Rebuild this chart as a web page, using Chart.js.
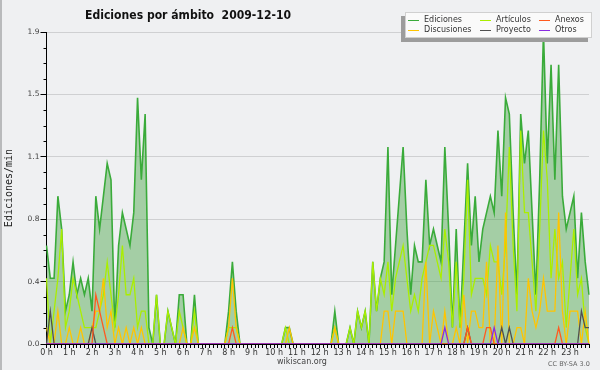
<!DOCTYPE html>
<html>
<head>
<meta charset="utf-8">
<script src="https://cdn.jsdelivr.net/npm/chart.js@4.4.1/dist/chart.umd.min.js"></script>
<style>
  html, body { margin: 0; padding: 0; background: #eff0f2; }
  #wrap { position: relative; width: 600px; height: 370px; overflow: hidden; background: #eff0f2; }
  #c { position: absolute; left: 0; top: 0; }
  #frame { position: absolute; left: 0; top: 0; width: 600px; height: 370px; box-sizing: border-box; border-left: 2px solid #b9babc; pointer-events: none; }
  .txt { position: absolute; white-space: pre; line-height: 1; }
  #title { left: 85px; top: 8px; font: bold 12px "DejaVu Sans", sans-serif; color: #111; transform-origin: 0 0; transform: scaleX(0.905); }
  #legend { position: absolute; left: 405px; top: 12px; width: 187px; height: 26px; background: #fafafa; border: 1px solid #d0d0d0; box-shadow: -4px 4px 0 #9c9c9c; box-sizing: border-box; }
  .li { position: absolute; font: 8px "DejaVu Sans", sans-serif; color: #333; line-height: 1; white-space: pre; }
  .ll { position: absolute; height: 1px; width: 11px; }
  #site { left: 0; width: 604px; text-align: center; top: 357px; font: 8px "DejaVu Sans", sans-serif; color: #444; }
  #cc { left: 548px; top: 360px; font: 6.5px "DejaVu Sans", sans-serif; color: #666; }
</style>
</head>
<body>
<div id="wrap">
  <canvas id="c" width="600" height="370"></canvas>
  <div id="title" class="txt">Ediciones por ámbito  2009-12-10</div>
  <div id="legend"></div>
  <div id="site" class="txt">wikiscan.org</div>
  <div id="cc" class="txt">CC BY-SA 3.0</div>
  <div id="frame"></div>
</div>
<script>
// ---- Data (edits per minute, 10-minute slots, 2009-12-10) ----
const hourLabels = ['0 h','1 h','2 h','3 h','4 h','5 h','6 h','7 h','8 h','9 h','10 h','11 h',
                    '12 h','13 h','14 h','15 h','16 h','17 h','18 h','19 h','20 h','21 h','22 h','23 h'];

const ediciones = [
 0.6,0.4,0.4,0.9,0.7,0.2, 0.3,0.5,0.3,0.4,0.3,0.4,
 0.2,0.9,0.7,0.9,1.1,1.0, 0.1,0.6,0.8,0.7,0.6,0.8,
 1.5,1.0,1.4,0.1,0,0.3, 0,0,0.2,0.1,0,0.3,
 0.3,0,0,0.3,0,0, 0,0,0,0,0,0,
 0.2,0.5,0.2,0,0,0, 0,0,0,0,0,0,
 0,0,0,0.1,0.1,0, 0,0,0,0,0,0,
 0,0,0,0,0.2,0, 0,0,0.1,0,0.2,0.1,
 0.2,0,0.5,0.2,0.4,0.5, 1.2,0.3,0.6,0.9,1.2,0.7,
 0.3,0.6,0.5,0.5,1.0,0.6, 0.7,0.6,0.5,1.2,0.7,0.1,
 0.7,0.1,0.6,1.1,0.6,0.9, 0.5,0.7,0.8,0.9,0.8,1.3,
 0.9,1.5,1.4,0.8,0.3,1.4, 1.1,1.3,0.8,0.3,1.0,1.9,
 1.1,1.7,1.0,1.7,0.9,0.7, 0.8,0.9,0.4,0.8,0.5,0.3
];
const articulos = [
 0.4,0,0.2,0.4,0.7,0.1, 0.2,0.4,0.3,0.2,0.1,0.1,
 0.1,0.1,0.2,0.3,0.5,0.3, 0.1,0.3,0.6,0.3,0.3,0.4,
 0.1,0.2,0.2,0,0,0.3, 0,0,0.2,0.1,0,0.2,
 0.1,0,0,0.2,0,0, 0,0,0,0,0,0,
 0.1,0.1,0.1,0,0,0, 0,0,0,0,0,0,
 0,0,0,0.1,0,0, 0,0,0,0,0,0,
 0,0,0,0,0.1,0, 0,0,0.1,0,0.2,0.1,
 0.2,0,0.5,0.2,0.4,0.3, 0.5,0.2,0.4,0.5,0.6,0.4,
 0.2,0.3,0.2,0.4,0.5,0.6, 0.6,0.5,0.4,0.7,0.5,0.1,
 0.5,0.1,0.4,1.0,0.3,0.4, 0.4,0.4,0.3,0.6,0.5,0.5,
 0.3,0.6,1.2,0.6,0.2,1.3, 0.8,0.8,0.5,0.2,0.7,1.3,
 1.0,0.4,0.7,0.4,0.5,0.1, 0.4,0.7,0.3,0.4,0.1,0
];
const discusiones = [
 0.1,0,0,0.2,0,0, 0.1,0,0,0.1,0,0,
 0.1,0.2,0.2,0.4,0.1,0.2, 0,0.1,0,0.1,0,0.1,
 0,0.1,0,0,0,0, 0,0,0,0,0,0,
 0.1,0,0,0.1,0,0, 0,0,0,0,0,0,
 0.1,0.4,0.1,0,0,0, 0,0,0,0,0,0,
 0,0,0,0,0.1,0, 0,0,0,0,0,0,
 0,0,0,0,0.1,0, 0,0,0,0,0,0,
 0,0,0,0,0,0.2, 0.2,0,0.2,0.2,0.2,0,
 0,0,0,0,0.5,0, 0.2,0.1,0,0.2,0,0,
 0.1,0,0.3,0,0.2,0.2, 0.1,0.1,0.5,0,0,0.6,
 0,0.8,0,0,0.1,0.1, 0,0.4,0.2,0.1,0.2,0.4,
 0.2,0.2,0.2,0.8,0.2,0, 0.2,0.2,0.2,0,0.2,0
];
const anexos = [
 0,0,0,0,0,0, 0,0,0,0,0,0,
 0,0.3,0.2,0.1,0,0, 0,0,0,0,0,0,
 0,0,0,0,0,0, 0,0,0,0,0,0,
 0,0,0,0,0,0, 0,0,0,0,0,0,
 0,0.1,0,0,0,0, 0,0,0,0,0,0,
 0,0,0,0,0,0, 0,0,0,0,0,0,
 0,0,0,0,0,0, 0,0,0,0,0,0,
 0,0,0,0,0,0, 0,0,0,0,0,0,
 0,0,0,0,0,0, 0,0,0,0,0,0,
 0,0,0,0.1,0,0, 0,0,0.1,0.1,0,0,
 0,0,0,0,0,0, 0,0,0,0,0,0,
 0,0,0,0.1,0,0, 0,0,0,0,0,0
];
const proyecto = [
 0,0.2,0,0,0,0, 0,0,0,0,0,0,
 0.1,0,0,0,0,0, 0,0,0,0,0,0,
 0,0,0,0,0,0, 0,0,0,0,0,0,
 0,0,0,0,0,0, 0,0,0,0,0,0,
 0,0,0,0,0,0, 0,0,0,0,0,0,
 0,0,0,0,0,0, 0,0,0,0,0,0,
 0,0,0,0,0,0, 0,0,0,0,0,0,
 0,0,0,0,0,0, 0,0,0,0,0,0,
 0,0,0,0,0,0, 0,0,0,0,0,0,
 0,0,0,0.1,0,0, 0,0,0,0,0,0,
 0.1,0,0.1,0,0,0, 0,0,0,0,0,0,
 0,0,0,0,0,0, 0,0,0,0.2,0.1,0.1
];
const otros = [
 0,0,0,0,0,0, 0,0,0,0,0,0,
 0,0,0,0,0,0, 0,0,0,0,0,0,
 0,0,0,0,0,0, 0,0,0,0,0,0,
 0,0,0,0,0,0, 0,0,0,0,0,0,
 0,0,0,0,0,0, 0,0,0,0,0,0,
 0,0,0,0,0,0, 0,0,0,0,0,0,
 0,0,0,0,0,0, 0,0,0,0,0,0,
 0,0,0,0,0,0, 0,0,0,0,0,0,
 0,0,0,0,0,0, 0,0,0,0.1,0,0,
 0,0,0,0,0,0, 0,0,0,0,0.1,0,
 0,0,0,0,0,0, 0,0,0,0,0,0,
 0,0,0,0,0,0, 0,0,0,0,0,0
];
const yTickLabels = ['0.0','0.4','0.8','1.1','1.5','1.9'];
const yMax = 1.9;

// ---- Series definitions ----
const seriesNames  = ['Ediciones','Artículos','Anexos','Discusiones','Proyecto','Otros'];
const seriesColors = ['#3aab3a','#aaee00','#ff5a1e','#ffc400','#505050','#8a2be2'];
const seriesData   = [ediciones, articulos, anexos, discusiones, proyecto, otros];
const drawOrder    = [6, 5, 2, 4, 3, 1];

const slots = ediciones.map((_, i) => i);

const datasets = seriesData.map((d, k) => ({
  label: seriesNames[k],
  data: d,
  borderColor: seriesColors[k],
  backgroundColor: k === 0 ? 'rgba(60,160,60,0.42)' : seriesColors[k],
  borderWidth: k === 0 ? 1.6 : 1.3,
  fill: k === 0 ? 'origin' : false,
  pointRadius: 0,
  tension: 0,
  order: drawOrder[k]
}));

// minor y ticks plugin
const minorTicks = {
  id: 'minorTicks',
  afterDraw(chart) {
    const y = chart.scales.y, ctx = chart.ctx;
    const step = yMax / 20;
    ctx.save();
    ctx.strokeStyle = '#000';
    ctx.lineWidth = 1;
    for (let k = 1; k < 20; k++) {
      if (k % 4 === 0) continue;
      const py = Math.round(y.getPixelForValue(k * step)) + 0.5;
      ctx.beginPath();
      ctx.moveTo(y.right - 3, py);
      ctx.lineTo(y.right, py);
      ctx.stroke();
    }
    ctx.restore();
  }
};

new Chart(document.getElementById('c'), {
  type: 'line',
  data: { labels: slots, datasets },
  options: {
    responsive: false,
    animation: false,
    events: [],
    layout: { padding: { left: 0, right: 11, top: 32, bottom: 0 } },
    plugins: { legend: { display: false }, tooltip: { enabled: false }, title: { display: false } },
    scales: {
      x: {
        type: 'category',
        offset: false,
        afterFit: s => { s.height = 26; },
        grid: { display: true, drawOnChartArea: false, drawTicks: true, tickLength: 4, color: '#000', tickColor: '#000' },
        border: { display: true, color: '#000', width: 1 },
        ticks: {
          autoSkip: false, maxRotation: 0, minRotation: 0, padding: 0,
          color: '#333', font: { family: 'DejaVu Sans', size: 8 },
          callback: (v, i) => (i % 6 === 0 ? hourLabels[i / 6] : '')
        }
      },
      y: {
        min: 0, max: yMax,
        afterFit: s => { s.width = 46.5; },
        afterBuildTicks: s => { s.ticks = yTickLabels.map((_, k) => ({ value: k * yMax / 5 })); },
        grid: { color: '#cfd0d2', lineWidth: 1, tickLength: 6, tickColor: '#000', drawTicks: true },
        border: { display: true, color: '#000', width: 1 },
        ticks: {
          padding: 1, color: '#444', font: { family: 'DejaVu Sans', size: 7.5 },
          callback: (v, i) => yTickLabels[i]
        },
        title: { display: true, text: 'Ediciones/min', color: '#222', font: { family: 'DejaVu Sans Mono', size: 10 }, padding: { top: 3, bottom: 0 } }
      }
    }
  },
  plugins: [minorTicks]
});

// ---- HTML legend built from the series arrays ----
const legendPos = [[0,0],[1,0],[2,0],[0,1],[1,1],[2,1]];
const colLine = [2, 74, 133], colText = [18, 90, 149], rowY = [3, 13];
const legend = document.getElementById('legend');
seriesNames.forEach((name, k) => {
  const [c, r] = legendPos[k];
  const ln = document.createElement('div');
  ln.className = 'll';
  ln.style.left = colLine[c] + 'px';
  ln.style.top = (rowY[r] + 4) + 'px';
  ln.style.background = seriesColors[k];
  legend.appendChild(ln);
  const t = document.createElement('div');
  t.className = 'li';
  t.style.left = colText[c] + 'px';
  t.style.top = rowY[r] + 'px';
  t.textContent = name;
  legend.appendChild(t);
});
</script>
</body>
</html>
